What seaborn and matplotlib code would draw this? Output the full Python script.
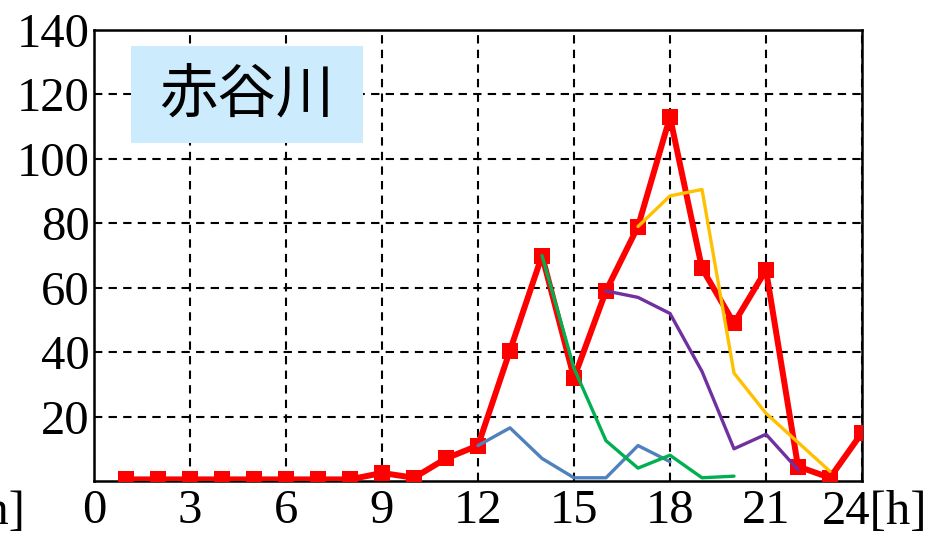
import matplotlib
matplotlib.use("Agg")
import matplotlib.pyplot as plt
from matplotlib.patches import Rectangle
import seaborn as sns
import pandas as pd

hours = list(range(1, 25))
observed = [0.5, 0.5, 0.5, 0.5, 0.5, 0.5, 0.5, 0.5, 2.5, 1, 7, 11,
            40.5, 70, 32, 59, 79, 113, 66, 49, 65.5, 4.5, 1, 15]

blue_x = [12, 13, 14, 15, 16, 17, 18]
blue_y = [11, 16.5, 7, 1, 1, 11, 6]
green_x = [14, 15, 16, 17, 18, 19, 20]
green_y = [70, 35, 12.5, 4, 8, 1, 1.5]
purple_x = [16, 17, 18, 19, 20, 21, 22]
purple_y = [59, 57, 52, 34, 10, 14.5, 3.5]
yellow_x = [17, 18, 19, 20, 21, 22, 23]
yellow_y = [79, 88.5, 90.5, 33.5, 21, 12, 3]

x_ticks = [0, 3, 6, 9, 12, 15, 18, 21, 24]
x_labels = ["0", "3", "6", "9", "12", "15", "18", "21", ""]
last_x_label = "24[h]"
y_ticks = [20, 40, 60, 80, 100, 120, 140]
y_unit = "[mm/h]"
title_text = "赤谷川"

sns.set_style("white")
plt.rcParams['font.family'] = ['Liberation Serif', 'DejaVu Serif']

fig = plt.figure(figsize=(9.33, 5.37), dpi=100)
ax = fig.add_axes([94/933, 1-481/537, (862-94)/933, (481-30)/537])

df_obs = pd.DataFrame({"h": hours, "v": observed})
sns.lineplot(data=df_obs, x="h", y="v", ax=ax, color="#FF0000", lw=4.3,
             marker="s", markersize=12, markeredgewidth=0, zorder=3)

series = [(blue_x, blue_y, "#4F81BD"), (green_x, green_y, "#00B050"),
          (purple_x, purple_y, "#7030A0"), (yellow_x, yellow_y, "#FFC000")]
for xs, ys, c in series:
    d = pd.DataFrame({"h": xs, "v": ys})
    sns.lineplot(data=d, x="h", y="v", ax=ax, color=c, lw=2.4, zorder=4)

ax.set_xlim(0, 24)
ax.set_ylim(0, 140)
ax.set_xticks(x_ticks)
ax.set_yticks(y_ticks)
ax.set_xticklabels(x_labels)
ax.set_yticklabels([str(t) for t in y_ticks])
ax.tick_params(axis='both', labelsize=35, length=0, colors='black')
ax.tick_params(axis='x', pad=6)
ax.tick_params(axis='y', pad=3)
ax.set_xlabel("")
ax.set_ylabel("")
ax.grid(True, color="black", linestyle=(0, (4, 3)), lw=1.5)
for s in ax.spines.values():
    s.set_color("black")
    s.set_linewidth(1.8)
    s.set_visible(True)

ax.text(22.75, -2.8, last_x_label, fontsize=35, ha="left", va="top",
        color="black", clip_on=False)
ax.text(-2.16, -2.8, y_unit, fontsize=35, ha="right", va="top",
        color="black", clip_on=False)

ax.add_patch(Rectangle((0.0482, 0.7494), 0.302, 0.215, transform=ax.transAxes,
                       fc="#CCEBFC", ec="none", zorder=5))
ax.text(0.199, 0.857, title_text, transform=ax.transAxes, fontsize=42,
        family=['Noto Sans CJK JP', 'DejaVu Sans'], ha="center", va="center",
        color="black", zorder=6)

fig.savefig("out.png", dpi=100)
